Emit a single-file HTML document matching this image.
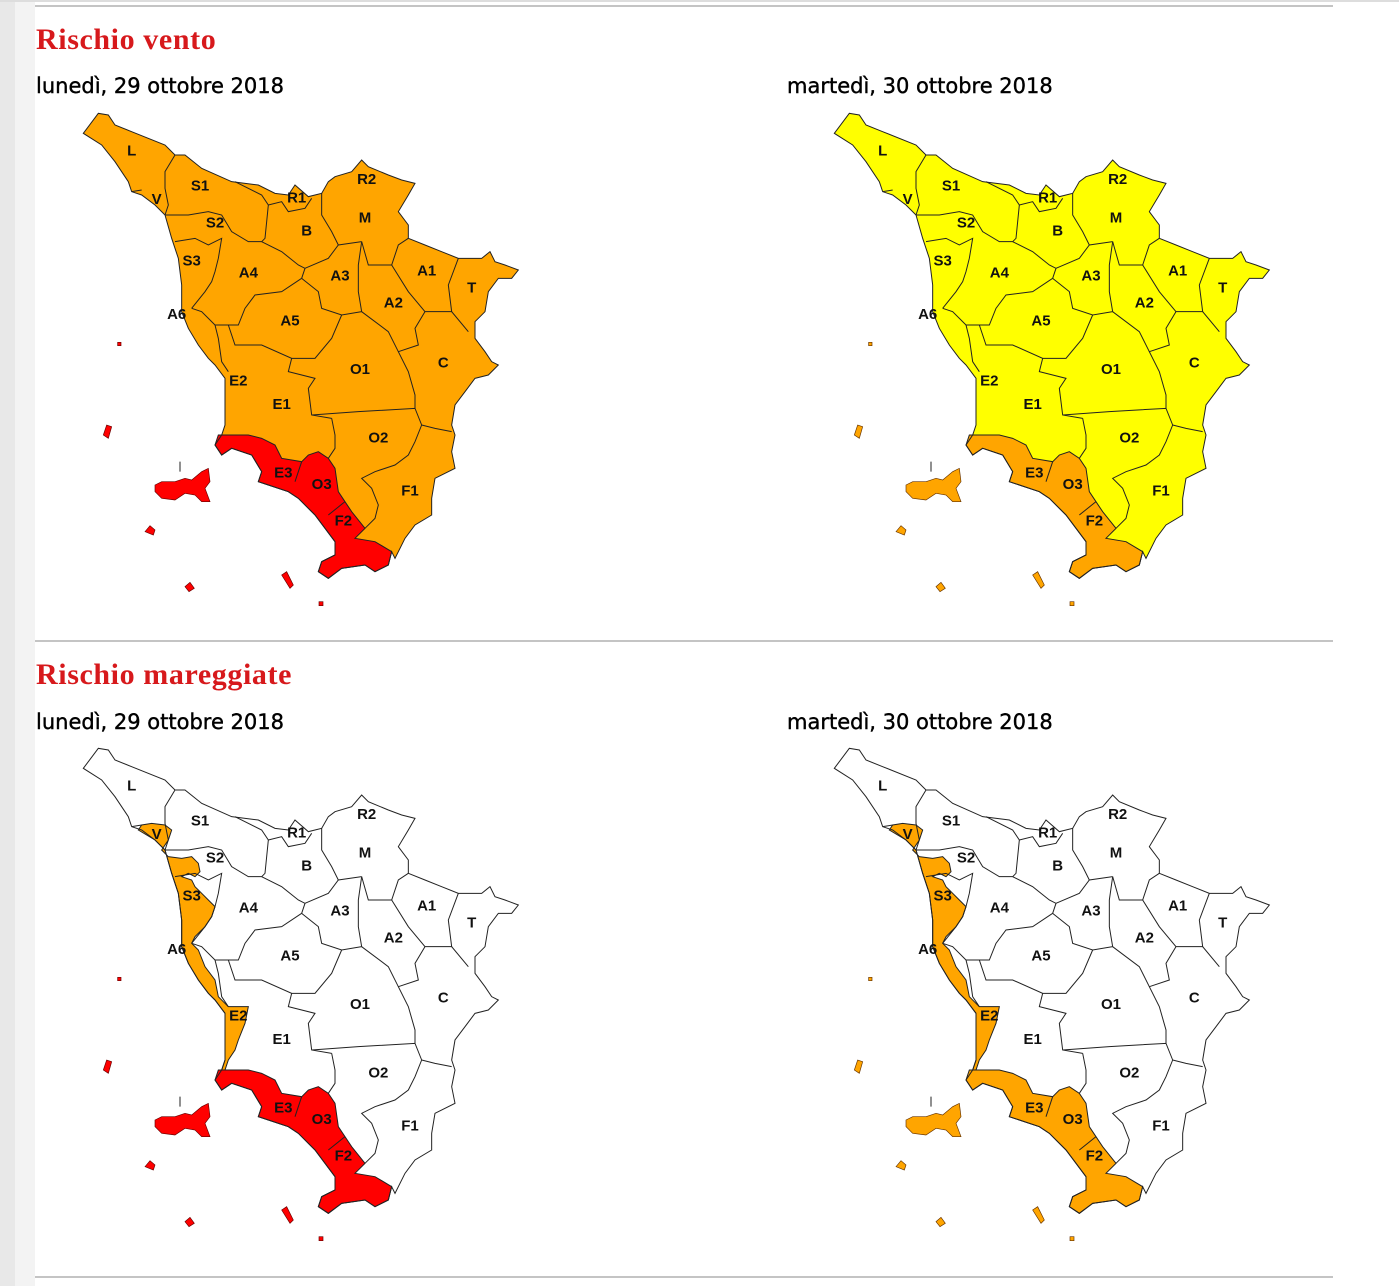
<!DOCTYPE html>
<html><head><meta charset="utf-8">
<style>
html,body{margin:0;padding:0;background:#fff;width:1399px;height:1286px;overflow:hidden;position:relative}
.s1{position:absolute;left:0;top:0;width:15px;height:1286px;background:#e8e8e8}
.s2{position:absolute;left:15px;top:0;width:20px;height:1286px;background:#f3f3f3}
.top{position:absolute;left:0;top:0;width:1399px;height:2px;background:#ddd}
.hr{position:absolute;left:35px;width:1298px;height:2px;background:#c4c4c4}
h2{position:absolute;margin:0;left:36px;font:bold 30px "Liberation Serif",serif;letter-spacing:0.6px;color:#d7191c}
.d{position:absolute;margin:0;font:21px "DejaVu Sans","Liberation Sans",sans-serif;color:#000;-webkit-text-stroke:0.4px #000}
svg.m{position:absolute;width:450px;height:505px}
svg text{font:bold 45px "Liberation Sans",Arial,sans-serif;fill:#111;text-anchor:middle;dominant-baseline:middle}
</style></head><body>
<div class="s1"></div><div class="s2"></div><div class="top"></div>
<div class="hr" style="top:5px"></div>
<div class="hr" style="top:640px"></div>
<div class="hr" style="top:1276px"></div>
<h2 style="top:23px">Rischio vento</h2>
<h2 style="top:658px">Rischio mareggiate</h2>
<div class="d" style="left:36px;top:74px">lunedì, 29 ottobre 2018</div>
<div class="d" style="left:787px;top:74px">martedì, 30 ottobre 2018</div>
<div class="d" style="left:36px;top:710px">lunedì, 29 ottobre 2018</div>
<div class="d" style="left:787px;top:710px">martedì, 30 ottobre 2018</div>

<svg width="0" height="0" style="position:absolute">
<defs>
<polygon id="out" points="25,85 70,25 100,30 120,60 170,80 270,120 300,150 330,150 380,190 470,230 550,240 600,265 640,270 660,240 700,275 740,265 760,230 780,215 830,200 860,165 880,185 940,210 980,225 1020,235 1000,270 970,320 1000,360 1000,400 1050,420 1100,440 1150,460 1220,460 1245,440 1260,470 1290,480 1330,495 1310,520 1270,520 1240,560 1230,620 1200,650 1200,700 1230,740 1250,770 1270,780 1240,810 1200,820 1170,860 1140,900 1130,960 1140,990 1130,1040 1140,1090 1080,1120 1070,1180 1070,1230 1020,1260 990,1300 960,1360 950,1340 940,1380 900,1400 870,1380 800,1390 760,1420 730,1400 740,1370 780,1350 780,1310 750,1270 720,1230 670,1180 640,1160 580,1140 550,1130 560,1100 530,1050 470,1030 440,1050 420,1020 440,990 450,960 450,900 450,820 420,780 400,760 370,720 340,670 320,620 320,540 310,460 290,400 270,330 240,300 200,270 170,260 160,230 120,170 80,120"/>
<polygon id="coast" points="190,270 200,255 230,250 270,255 290,270 280,300 260,330 280,350 320,355 350,350 370,370 375,395 360,410 340,400 320,410 350,420 360,440 380,460 400,480 420,500 410,530 390,560 360,590 350,610 370,630 390,680 420,720 430,770 460,800 520,800 510,850 490,900 480,930 460,960 450,990 440,990 450,960 450,900 450,820 420,780 400,760 370,720 340,670 320,620 320,540 310,460 290,400 270,330 240,300"/>
<polygon id="south" points="430,990 470,990 520,990 560,1000 600,1020 620,1060 680,1070 700,1050 730,1040 760,1060 780,1090 790,1160 810,1190 830,1220 870,1270 840,1300 900,1310 950,1340 940,1380 900,1400 870,1380 800,1390 760,1420 730,1400 740,1370 780,1350 780,1310 750,1270 720,1230 670,1180 640,1160 580,1140 550,1130 560,1100 530,1050 470,1030 440,1050 420,1020"/>
<g id="isl">
<polygon points="240,1140 260,1130 300,1130 330,1120 350,1125 380,1100 400,1090 405,1130 390,1150 405,1190 380,1190 360,1170 330,1165 300,1185 260,1180 240,1160"/>
<polygon points="85,990 95,960 110,965 100,1000"/>
<polygon points="128,712 138,712 138,722 128,722"/>
<polygon points="210,1280 225,1262 240,1275 235,1290"/>
<polygon points="620,1410 635,1400 655,1440 645,1450"/>
<polygon points="330,1445 345,1432 358,1450 342,1460"/>
<polygon points="732,1490 744,1490 744,1502 732,1502"/>
</g>
<g id="bd" fill="none" stroke="#222" stroke-width="3">
<polyline points="300,150 270,200 270,250 280,300 270,330"/>
<polyline points="170,260 200,255"/>
<polyline points="270,330 340,330 400,320 440,330 470,380 520,410 560,410"/>
<polyline points="480,230 560,270 580,300 570,400 560,410"/>
<polyline points="580,300 620,290 640,320 690,310 710,280"/>
<polyline points="740,265 740,330 770,380 790,420"/>
<polyline points="300,410 360,400 400,420 440,400 430,460 420,500 410,530 390,560 350,610"/>
<polyline points="560,410 620,440 670,480 690,490 680,520"/>
<polyline points="690,490 760,460 790,420 860,410"/>
<polyline points="860,410 880,480 950,480 970,420 1000,400"/>
<polyline points="1150,460 1120,540 1130,620"/>
<polyline points="950,480 1000,560 1050,620"/>
<polyline points="860,410 850,480 850,560 860,620"/>
<polyline points="680,520 620,560 540,570 510,610 490,660 420,660 380,620 350,610"/>
<polyline points="680,520 730,560 740,610 800,630 860,620"/>
<polyline points="860,620 940,680 970,740 1030,720 1020,670 1050,620 1130,620 1180,680"/>
<polyline points="800,630 770,700 720,760 650,760 560,720 480,720 460,660"/>
<polyline points="420,660 430,700 440,770 460,800"/>
<polyline points="650,760 640,800 720,820 700,850 710,930 770,940"/>
<polyline points="710,930 850,920 1020,910 1040,960"/>
<polyline points="970,740 1000,800 1020,870 1020,910"/>
<polyline points="770,940 780,990 780,1030 760,1060"/>
<polyline points="1040,960 1080,970 1130,980"/>
<polyline points="1040,960 1020,1010 1000,1050 960,1080 900,1100 860,1120 890,1150 910,1200 900,1240 870,1270"/>
<polyline points="680,1070 660,1130"/>
<polyline points="760,1230 810,1190"/>
<polyline points="315,1070 315,1100"/>
</g>
<g id="lab">
<text x="170" y="140">L</text><text x="375" y="245">S1</text><text x="245" y="285">V</text>
<text x="875" y="225">R2</text><text x="665" y="280">R1</text><text x="420" y="355">S2</text>
<text x="870" y="340">M</text><text x="695" y="380">B</text><text x="350" y="470">S3</text>
<text x="520" y="505">A4</text><text x="795" y="515">A3</text><text x="1055" y="500">A1</text>
<text x="1190" y="550">T</text><text x="955" y="595">A2</text><text x="305" y="630">A6</text>
<text x="645" y="650">A5</text><text x="1105" y="775">C</text><text x="855" y="795">O1</text>
<text x="490" y="830">E2</text><text x="620" y="900">E1</text><text x="910" y="1000">O2</text>
<text x="625" y="1105">E3</text><text x="740" y="1140">O3</text>
<text x="805" y="1250">F2</text><text x="1005" y="1160">F1</text>
</g>
</defs></svg>

<svg class="m" style="left:75px;top:105px" viewBox="0 0 1350 1515">
<use href="#out" fill="#ffa500"/><use href="#south" fill="#ff0000"/><use href="#isl" fill="#ff0000" stroke="#600" stroke-width="2"/>
<use href="#bd"/><use href="#out" fill="none" stroke="#222" stroke-width="3"/><use href="#south" fill="none" stroke="#222" stroke-width="3"/><use href="#lab"/>
</svg>
<svg class="m" style="left:826px;top:105px" viewBox="0 0 1350 1515">
<use href="#out" fill="#ffff00"/><use href="#south" fill="#ffa500"/><use href="#isl" fill="#ffa500" stroke="#630" stroke-width="2"/>
<use href="#bd"/><use href="#out" fill="none" stroke="#222" stroke-width="3"/><use href="#south" fill="none" stroke="#222" stroke-width="3"/><use href="#lab"/>
</svg>
<svg class="m" style="left:75px;top:740px" viewBox="0 0 1350 1515">
<use href="#out" fill="#fff"/><use href="#coast" fill="#ffa500"/><use href="#south" fill="#ff0000"/><use href="#isl" fill="#ff0000" stroke="#600" stroke-width="2"/>
<use href="#bd"/><use href="#coast" fill="none" stroke="#222" stroke-width="3"/><use href="#out" fill="none" stroke="#222" stroke-width="3"/><use href="#south" fill="none" stroke="#222" stroke-width="3"/><use href="#lab"/>
</svg>
<svg class="m" style="left:826px;top:740px" viewBox="0 0 1350 1515">
<use href="#out" fill="#fff"/><use href="#coast" fill="#ffa500"/><use href="#south" fill="#ffa500"/><use href="#isl" fill="#ffa500" stroke="#630" stroke-width="2"/>
<use href="#bd"/><use href="#coast" fill="none" stroke="#222" stroke-width="3"/><use href="#out" fill="none" stroke="#222" stroke-width="3"/><use href="#south" fill="none" stroke="#222" stroke-width="3"/><use href="#lab"/>
</svg>
</body></html>
